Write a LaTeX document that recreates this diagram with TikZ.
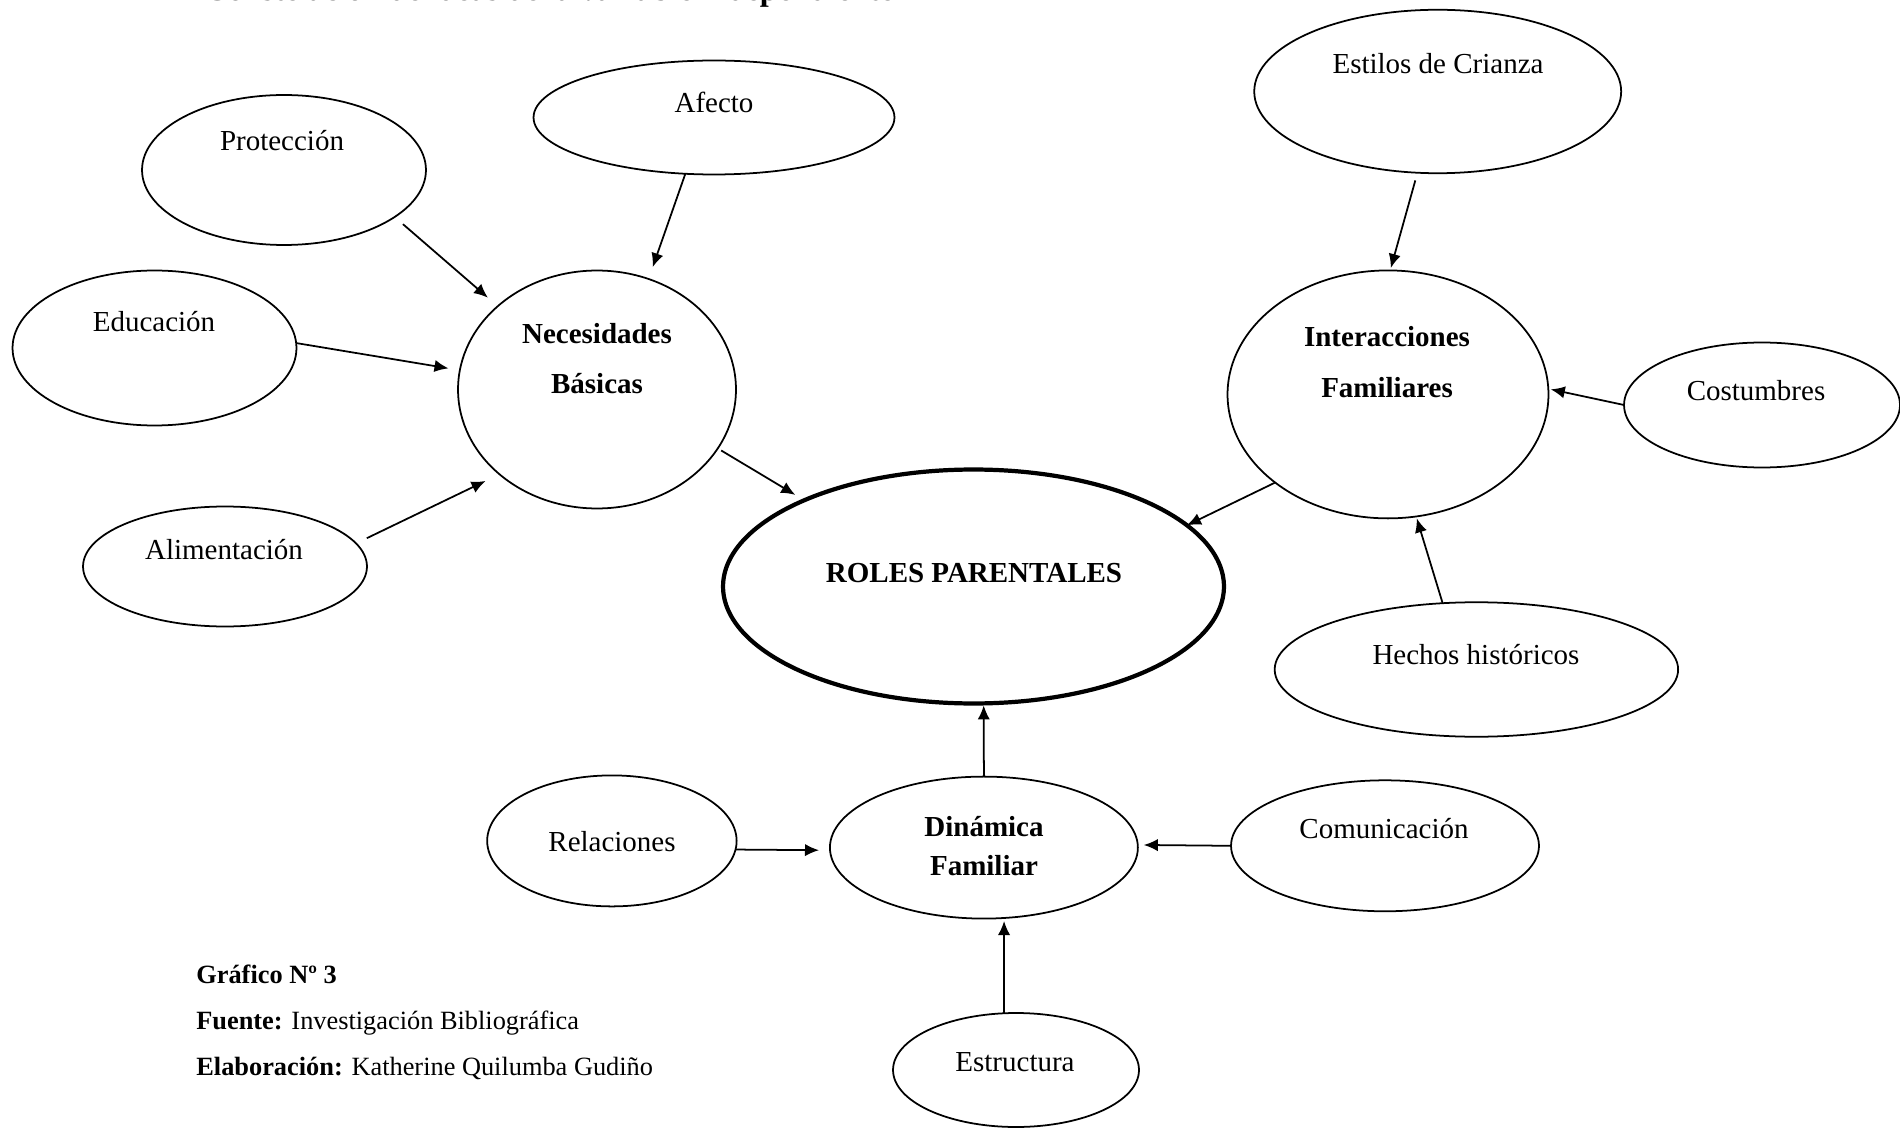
\documentclass[tikz,border=0pt]{standalone}
\usepackage{fontspec}
\setmainfont{Liberation Serif}
\usetikzlibrary{arrows.meta, shapes.geometric}

\begin{document}
\begin{tikzpicture}[
    x=0.02cm, y=-0.02cm,
    >={Latex[length=8pt, width=7pt]},
    % Ellipses for the ideas and the central concept
    idea/.style={ellipse, draw, line width=1pt, inner sep=0pt, outer sep=0pt},
    core/.style={ellipse, draw, line width=2.4pt, inner sep=0pt, outer sep=0pt},
    % Texts
    txt/.style={anchor=base, inner sep=0pt, font=\fontsize{16.5}{20}\selectfont},
    btxt/.style={txt, font=\fontsize{16.5}{20}\selectfont\bfseries},
    note/.style={anchor=base west, inner sep=0pt, font=\fontsize{15}{18}\selectfont},
    link/.style={->, line width=1pt}
]

\useasboundingbox (0,0) rectangle (1900,1128);

% --- 1. Heading (cut by the top edge) ---
\node[anchor=base west, inner sep=0pt, font=\fontsize{18.3}{22}\selectfont\bfseries]
    (titulo) at (204,1) {Constelación de ideas de la variable independiente};

% --- 2. Ellipses ---
\node[core, minimum width=10.02cm, minimum height=4.68cm] (roles) at (973.5,586.5) {};

% Necesidades Basicas and its sources
\node[idea, minimum width=5.56cm, minimum height=4.76cm] (nec) at (597,389.5) {};
\node[idea, minimum width=5.68cm, minimum height=3.0cm] (prot) at (284,170) {};
\node[idea, minimum width=7.22cm, minimum height=2.28cm] (afec) at (714,117.5) {};
\node[idea, minimum width=5.68cm, minimum height=3.1cm] (educ) at (154.5,348) {};
\node[idea, minimum width=5.68cm, minimum height=2.4cm] (alim) at (225,566.5) {};

% Interacciones Familiares and its sources
\node[idea, minimum width=6.42cm, minimum height=4.96cm] (inter) at (1388,394.4) {};
\node[idea, minimum width=7.34cm, minimum height=3.27cm] (estil) at (1437.7,91.5) {};
\node[idea, minimum width=5.52cm, minimum height=2.5cm] (cost) at (1762,405) {};
\node[idea, minimum width=8.07cm, minimum height=2.69cm] (hech) at (1476.4,669.5) {};

% Dinamica Familiar and its sources
\node[idea, minimum width=6.16cm, minimum height=2.84cm] (din) at (983.9,847.6) {};
\node[idea, minimum width=4.99cm, minimum height=2.62cm] (rel) at (611.9,840.9) {};
\node[idea, minimum width=6.16cm, minimum height=2.62cm] (com) at (1385,845.8) {};
\node[idea, minimum width=4.92cm, minimum height=2.28cm] (estr) at (1016,1070) {};

% --- 3. Texts inside the ellipses ---
\node[btxt] (roles-l) at (974,582) {ROLES PARENTALES};

\node[btxt] (nec-l1) at (597,344) {Necesidades};
\node[btxt] (nec-l2) at (597,394) {Básicas};
\node[txt] (prot-l) at (282,151) {Protección};
\node[txt] (afec-l) at (714,113) {Afecto};
\node[txt] (educ-l) at (154,332) {Educación};
\node[txt] (alim-l) at (224,559) {Alimentación};

\node[btxt] (inter-l1) at (1387,347) {Interacciones};
\node[btxt] (inter-l2) at (1387,398) {Familiares};
\node[txt] (estil-l) at (1438,74) {Estilos de Crianza};
\node[txt] (cost-l) at (1756,400) {Costumbres};
\node[txt] (hech-l) at (1476,664) {Hechos históricos};

\node[btxt] (din-l1) at (984,836) {Dinámica};
\node[btxt] (din-l2) at (984,875) {Familiar};
\node[txt] (rel-l) at (612,851) {Relaciones};
\node[txt] (com-l) at (1384,838) {Comunicación};
\node[txt] (estr-l) at (1015,1071) {Estructura};

% --- 4. Arrows ---
\draw[link, shorten <=0.22cm, shorten >=0.26cm] (prot.-23) -- (nec.140);
\draw[link, shorten >=0.25cm] (afec.-117) -- (nec.65);
\draw[link, shorten >=0.23cm] (educ.2) -- (nec.172);
\draw[link, shorten <=0.24cm, shorten >=0.31cm] (alim.10) -- (nec.-139);
\draw[link, shorten <=0.08cm, shorten >=0.21cm] (nec.-26) -- (roles.153);

\draw[link, shorten <=0.16cm, shorten >=0.05cm] (estil.-104) -- (inter.89);
\draw[link, shorten >=0.05cm] (cost.180) -- (inter.2);
\draw[link, shorten >=0.04cm] (hech.117) -- (inter.-77);
\draw[link] (inter.-142) -- (roles.16);

\draw[link, shorten >=0.04cm] (din.north) -- (roles.-85);
\draw[link, shorten >=0.22cm] (rel.-4) -- (din.181);
\draw[link, shorten >=0.12cm] (com.180) -- (din.1);
\draw[link, shorten >=0.06cm] (estr.102) -- (din.-74);

% --- 5. Caption ---
\node[note] (graf) at (196,983) {\textbf{Gráfico Nº 3}};
\node[note] (fuente) at (196,1029) {\textbf{Fuente:} Investigación Bibliográfica};
\node[note] (elab) at (196,1075) {\textbf{Elaboración:} Katherine Quilumba Gudiño};

\end{tikzpicture}
\end{document}
